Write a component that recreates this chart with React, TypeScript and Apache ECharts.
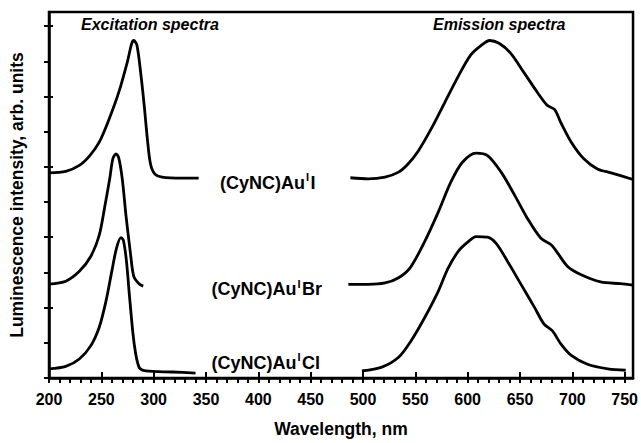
import React, { useEffect, useRef } from "react";
import * as echarts from "echarts";

// ---- data ----
const xTicks = [200, 250, 300, 350, 400, 450, 500, 550, 600, 650, 700, 750];
const yTicks = [0, 2, 4, 6, 8, 10];

const excI_x = [200, 216, 229, 239, 248, 258, 267, 275, 279, 281, 284, 288, 291, 294, 297, 301, 308, 327, 343];
const excI_y = [5.83, 5.87, 6.04, 6.32, 6.7, 7.4, 8.15, 9.0, 9.5, 9.59, 9.46, 8.57, 7.73, 6.79, 6.08, 5.8, 5.71, 5.68, 5.68];

const excBr_x = [200, 216, 229, 240, 248, 253, 258, 261, 264, 266.5, 270, 273.5, 278, 281, 286, 290];
const excBr_y = [2.67, 2.75, 3.03, 3.46, 4.06, 4.82, 5.66, 6.23, 6.37, 6.27, 5.66, 4.63, 3.5, 2.89, 2.68, 2.61];

const excCl_x = [200, 216, 229, 240, 248, 254.5, 260, 264.5, 268.7, 271, 274, 277.3, 281.4, 286, 292.5, 318, 340];
const excCl_y = [0.26, 0.33, 0.54, 0.92, 1.44, 2.19, 3.03, 3.69, 3.99, 3.92, 3.32, 2.19, 0.97, 0.31, 0.2, 0.17, 0.14];

const emI_x = [488, 505, 521, 534, 543, 553, 565, 578, 591, 603, 613, 621, 630, 641, 654, 667, 676, 683, 689, 699, 711, 724, 737, 758];
const emI_y = [5.69, 5.66, 5.71, 5.85, 6.08, 6.46, 7.07, 7.82, 8.57, 9.18, 9.45, 9.59, 9.51, 9.23, 8.67, 8.1, 7.75, 7.63, 7.26, 6.7, 6.23, 5.94, 5.83, 5.64];

const emBr_x = [486, 505, 521, 534, 545, 559, 572, 584, 595, 608, 619, 632, 645, 657, 670, 680, 686, 695.5, 708, 727, 746, 758];
const emBr_y = [2.66, 2.66, 2.7, 2.85, 3.13, 3.88, 4.72, 5.57, 6.13, 6.39, 6.32, 5.85, 5.19, 4.54, 3.97, 3.78, 3.55, 3.17, 2.94, 2.73, 2.68, 2.64];

const emCl_x = [499, 518, 534, 546, 559, 572, 581, 591, 600, 608, 619, 627, 638, 651, 664, 673, 681, 689, 699, 714.5, 734, 751];
const emCl_y = [0.2, 0.31, 0.59, 1.06, 1.72, 2.47, 3.1, 3.6, 3.86, 4.02, 4.0, 3.83, 3.32, 2.66, 2.0, 1.53, 1.34, 0.97, 0.64, 0.39, 0.26, 0.22];

const curves = [
  { name: "excI", x: excI_x, y: excI_y },
  { name: "excBr", x: excBr_x, y: excBr_y },
  { name: "excCl", x: excCl_x, y: excCl_y },
  { name: "emI", x: emI_x, y: emI_y },
  { name: "emBr", x: emBr_x, y: emBr_y },
  { name: "emCl", x: emCl_x, y: emCl_y },
];

const labels = [
  { halide: "I", left: 220, y: 182.5 },
  { halide: "Br", left: 211.5, y: 289 },
  { halide: "Cl", left: 211.5, y: 362.5 },
];

const FONT = "'Liberation Sans', Arial, sans-serif";

export default function App() {
  const ref = useRef<HTMLDivElement>(null);
  useEffect(() => {
    if (!ref.current) return;
    const chart = echarts.init(ref.current, null, { renderer: "svg" });
    const axisCommon = { type: "value" as const, splitLine: { show: false } };
    const option: any = {
      animation: false,
      backgroundColor: "#fff",
      grid: {
        left: 49, right: 5, top: 12, bottom: 62,
        show: true, borderColor: "#000", borderWidth: 2.5, backgroundColor: "transparent",
      },
      xAxis: [
        {
          ...axisCommon,
          min: 200, max: 758, interval: 50, position: "bottom",
          axisLine: { lineStyle: { color: "#000", width: 2.5 } },
          axisTick: { inside: false, length: 5, customValues: xTicks, lineStyle: { color: "#000", width: 2 } },
          minorTick: { show: true, splitNumber: 5, length: 5, lineStyle: { color: "#000", width: 2 } },
          axisLabel: {
            customValues: xTicks,
            formatter: (v: number) => (v % 50 === 0 ? String(v) : ""),
            color: "#000", fontSize: 16, fontWeight: "bold", fontFamily: FONT, margin: 13,
          },
          name: "Wavelength, nm", nameLocation: "middle", nameGap: 42,
          nameTextStyle: { color: "#000", fontSize: 17.5, fontWeight: "bold", fontFamily: FONT },
        },
        {
          ...axisCommon,
          min: 200, max: 758, interval: 50, position: "bottom",
          axisLine: { show: false },
          axisTick: { inside: true, length: 6, customValues: xTicks, lineStyle: { color: "#000", width: 2 } },
          axisLabel: { show: false },
        },
      ],
      yAxis: [
        {
          ...axisCommon,
          min: 0, max: 10.4, interval: 2, position: "left",
          axisLine: { show: true, lineStyle: { color: "#000", width: 2.5 } },
          axisTick: { show: true, inside: false, length: 5, customValues: yTicks, lineStyle: { color: "#000", width: 2 } },
          minorTick: { show: true, splitNumber: 2, length: 5, lineStyle: { color: "#000", width: 2 } },
          axisLabel: { show: false },
          name: "Luminescence intensity, arb. units", nameLocation: "middle", nameGap: 23,
          nameTextStyle: { color: "#000", fontSize: 17.5, fontWeight: "bold", fontFamily: FONT },
        },
        {
          ...axisCommon,
          min: 0, max: 10.4, interval: 2, position: "left",
          axisLine: { show: false },
          axisTick: { show: true, inside: true, length: 4, customValues: yTicks, lineStyle: { color: "#000", width: 2 } },
          axisLabel: { show: false },
        },
      ],
      series: curves.map((c) => ({
        name: c.name,
        type: "line",
        xAxisIndex: 0,
        yAxisIndex: 0,
        data: c.x.map((xv, i) => [xv, c.y[i]]),
        showSymbol: false,
        smooth: 0.3,
        lineStyle: { color: "#000", width: 2.8 },
        silent: true,
      })),
      graphic: [
        {
          type: "text", left: 81, top: 16,
          style: { text: "Excitation spectra", fill: "#000", font: `italic bold 16px ${FONT}` },
        },
        {
          type: "text", left: 433, top: 16,
          style: { text: "Emission spectra", fill: "#000", font: `italic bold 16px ${FONT}` },
        },
        ...labels.map((l) => ({
          type: "text", left: l.left, top: l.y - 11,
          style: {
            text: `{a|(CyNC)Au}{s|I}{a|${l.halide}}`,
            fill: "#000",
            rich: {
              a: { fontSize: 18, fontWeight: "bold", fontFamily: FONT, fill: "#000", lineHeight: 22 },
              s: { fontSize: 11, fontWeight: "bold", fontFamily: FONT, fill: "#000", verticalAlign: "top", lineHeight: 16, padding: [0, 1.5, 0, 1] },
            },
          },
        })),
      ],
    };
    chart.setOption(option);
    return () => chart.dispose();
  }, []);
  return (
    <div
      ref={ref}
      style={{ position: "fixed", left: 0, top: 0, width: 641, height: 443, background: "#fff" }}
    />
  );
}
